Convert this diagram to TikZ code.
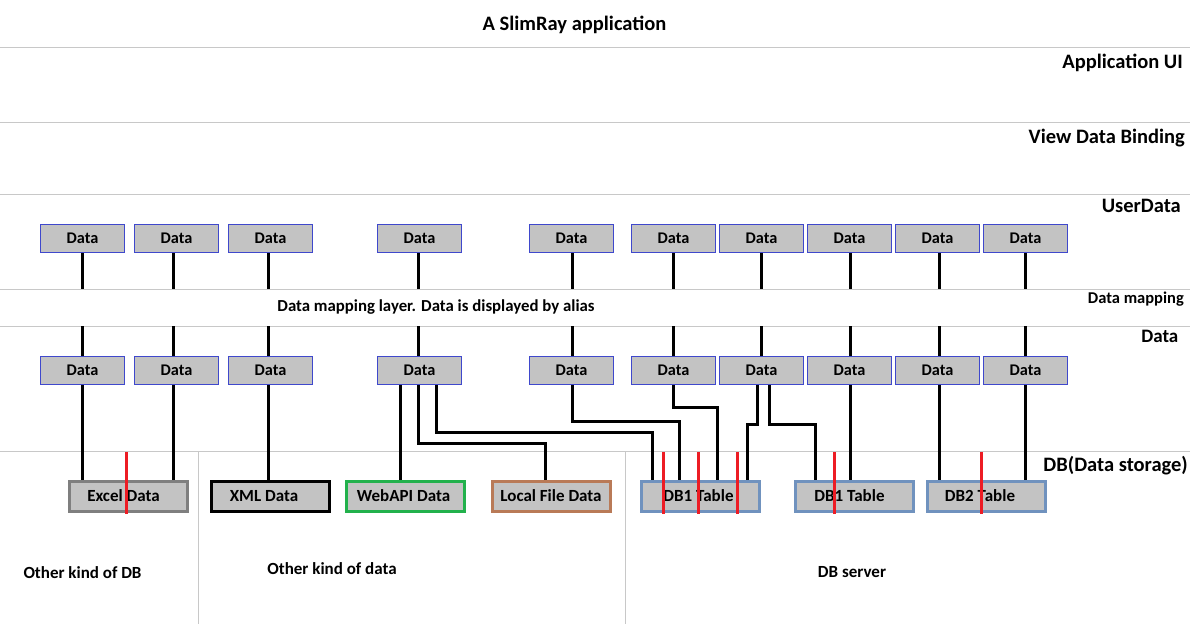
\documentclass[tikz,border=0pt]{standalone}
\usepackage{fontspec}
\setmainfont{Carlito}
\usetikzlibrary{calc}
\definecolor{gridgray}{RGB}{200,200,200}
\definecolor{boxfill}{RGB}{195,195,195}
\definecolor{boxblue}{RGB}{63,72,204}
\definecolor{stgray}{RGB}{127,127,127}
\definecolor{stgreen}{RGB}{34,177,76}
\definecolor{stbrown}{RGB}{185,122,87}
\definecolor{stblue}{RGB}{112,146,190}
\definecolor{redmark}{RGB}{237,28,36}
\begin{document}
\begin{tikzpicture}[x=1pt,y=-1pt,
  gridline/.style={draw=gridgray,line width=1pt},
  databox/.style={draw=boxblue,fill=boxfill,line width=1pt,minimum width=84pt,minimum height=28pt,inner sep=0pt,font=\fontsize{16.3}{19}\selectfont\bfseries},
  store/.style={draw=#1,fill=boxfill,line width=3pt,minimum width=118pt,minimum height=30pt,inner sep=0pt,font=\fontsize{17}{20}\selectfont\bfseries},
  conn/.style={draw=black,line width=3pt,line join=miter},
  redline/.style={draw=redmark,line width=3pt},
  lab/.style={font=\fontsize{20.5}{24}\selectfont\bfseries,inner sep=0pt,anchor=base east},
  note/.style={font=\fontsize{17}{20}\selectfont\bfseries,inner sep=0pt,anchor=base},
]
\useasboundingbox (0,0) rectangle (1190,624);
\fill[white] (0,0) rectangle (1190,624);

% grid lines
\foreach \y in {47,122,194,289,326,451} \draw[gridline] (0,\y) -- (1190,\y);
\draw[gridline] (198.5,451) -- (198.5,624);
\draw[gridline] (625.5,451) -- (625.5,624);
\coordinate (mapTop) at (0,289);
\coordinate (mapBot) at (0,326);

% labels
\node[font=\fontsize{20.5}{24}\selectfont\bfseries,inner sep=0pt,anchor=base] (title) at (574.5,30) {A SlimRay application};
\node[lab] (lui) at (1183,68.5) {Application UI};
\node[lab] (lvdb) at (1185,143.5) {View Data Binding};
\node[lab] (lud) at (1181,212) {UserData};
\node[lab,font=\fontsize{16.5}{20}\selectfont\bfseries] (lmap) at (1184,303) {Data mapping};
\node[lab,font=\fontsize{19}{23}\selectfont\bfseries] (ldata) at (1178.5,342) {Data};
\node[lab] (ldb) at (1188,471.5) {DB(Data storage)};
\node[note,font=\fontsize{16.8}{20}\selectfont\bfseries] (maptext) at (436,311.5) {Data mapping layer. Data is displayed by alias};
\node[note] (odb) at (82.5,578) {Other kind of DB};
\node[note] (odata) at (332,574) {Other kind of data};
\node[note] (dbs) at (852,577) {DB server};

% data boxes
\foreach \i/\x/\o in {1/82.5/0,2/176.5/-3,3/270.5/-2,4/419.5/-1,5/571.5/0.5,6/673.5/-0.5,7/761.5/-0.5,8/849.5/0.5,9/937.5/1.5,10/1025.5/-0.5}{
  \node[databox] (u\i) at (\x,238.5) {Data};
  \node[databox] (d\i) at (\x,370.5) {Data};
  \draw[conn] ($(u\i.south)+(\o,0)$) -- ($(u\i.south|-mapTop)+(\o,0)$);
  \draw[conn] ($(d\i.north|-mapBot)+(\o,0)$) -- ($(d\i.north)+(\o,0)$);
}

% storage boxes
\node[store=stgray] (excel) at (128.5,496) {Excel Data\hspace*{10pt}};
\node[store=black] (xml) at (270,496) {XML Data\hspace*{12pt}};
\node[store=stgreen] (wapi) at (405,496) {WebAPI Data\hspace*{3pt}};
\node[store=stbrown] (lfile) at (551,496) {Local File Data};
\node[store=stblue] (dba) at (700,496) {DB1 Table\hspace*{3pt}};
\node[store=stblue] (dbb) at (854.5,496) {DB1 Table\hspace*{10pt}};
\node[store=stblue] (dbc) at (986,496) {DB2 Table\hspace*{12pt}};

% connectors data -> storage
\draw[conn] ($(d1.south)+(-0.5,0)$) -- ($(excel.north)+(-46.5,0)$);
\draw[conn] ($(d2.south)+(-3,0)$) -- ($(excel.north)+(45,0)$);
\draw[conn] ($(d3.south)+(-2,0)$) -- ($(xml.north)+(-1.5,0)$);
\draw[conn] ($(d4.south)+(-19.5,0)$) -- ($(wapi.north)+(-5,0)$);
\draw[conn] ($(d4.south)+(-1,0)$) |- ($(lfile.north)+(-6,-36)$) -- ($(lfile.north)+(-6,0)$);
\draw[conn] ($(d4.south)+(16.5,0)$) |- ($(dba.north)+(-48,-47)$) -- ($(dba.north)+(-48,0)$);
\draw[conn] ($(d5.south)+(0.5,0)$) |- ($(dba.north)+(-21,-58)$) -- ($(dba.north)+(-21,0)$);
\draw[conn] ($(d6.south)+(-0.5,0)$) |- ($(dba.north)+(17,-72)$) -- ($(dba.north)+(17,0)$);
\draw[conn] ($(d7.south)+(-4.5,0)$) |- ($(dba.north)+(47,-55)$) -- ($(dba.north)+(47,0)$);
\draw[conn] ($(d7.south)+(7.5,0)$) |- ($(dbb.north)+(-39.5,-55)$) -- ($(dbb.north)+(-39.5,0)$);
\draw[conn] ($(d8.south)+(0.5,0)$) -- ($(dbb.north)+(-4.5,0)$);
\draw[conn] ($(d9.south)+(1.5,0)$) -- ($(dbc.north)+(-47,0)$);
\draw[conn] ($(d10.south)+(-0.5,0)$) -- ($(dbc.north)+(39,0)$);

% red marks
\foreach \x in {126,663,698,737,834,981.5} \draw[redline] (\x,452) -- (\x,513.5);
\end{tikzpicture}
\end{document}
